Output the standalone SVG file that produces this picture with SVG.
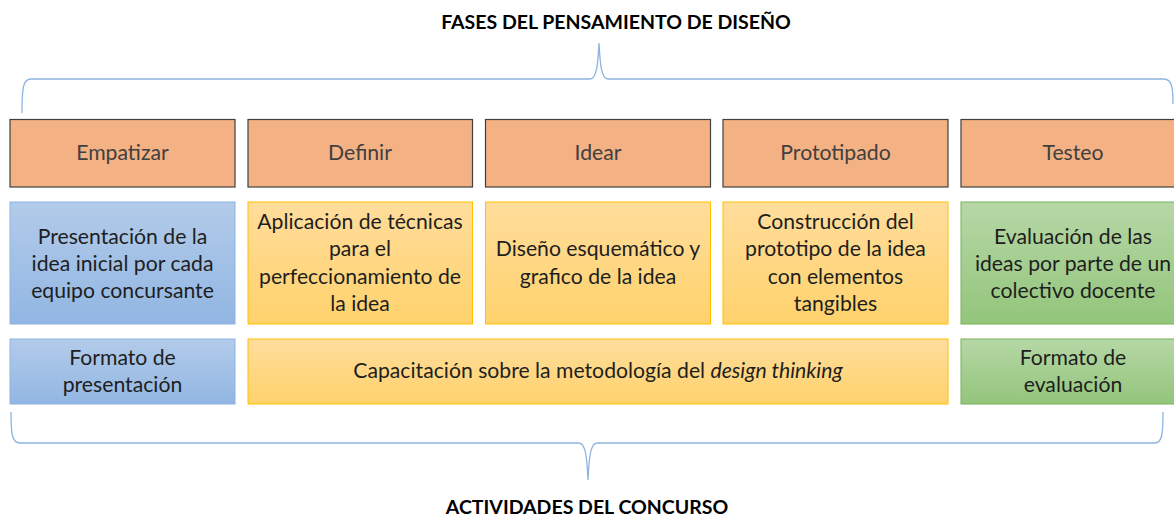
<svg xmlns="http://www.w3.org/2000/svg" width="1174" height="516" viewBox="0 0 1174 516">
<defs>
<linearGradient id="gBlue" x1="0" y1="0" x2="0" y2="1"><stop offset="0" stop-color="#B3CBEA"/><stop offset="1" stop-color="#91B6E2"/></linearGradient>
<linearGradient id="gYel" x1="0" y1="0" x2="0" y2="1"><stop offset="0" stop-color="#FFDD9C"/><stop offset="1" stop-color="#FFD26C"/></linearGradient>
<linearGradient id="gGrn" x1="0" y1="0" x2="0" y2="1"><stop offset="0" stop-color="#B6D7A6"/><stop offset="1" stop-color="#93C57B"/></linearGradient>
<style>
.t{font-family:Lato,"Liberation Sans",sans-serif;font-size:21.2px;text-anchor:middle;fill:#1e1e1e}
.h{font-family:Lato,"Liberation Sans",sans-serif;font-size:19.5px;font-weight:bold;text-anchor:middle;fill:#000}
.ph rect{fill:#F4B183;stroke:#404040;stroke-width:1.2}
.ph text{fill:#404040}
.b{fill:url(#gBlue);stroke:#8DB3E2;stroke-width:1}
.y{fill:url(#gYel);stroke:#FFC000;stroke-width:1}
.g{fill:url(#gGrn);stroke:#78B15A;stroke-width:1}
.br{fill:none;stroke:#8DB4E0;stroke-width:1.3}
</style>
</defs>
<rect width="1174" height="516" fill="#fff"/>
<text class="h" x="616" y="29">FASES DEL PENSAMIENTO DE DISEÑO</text>
<text class="h" x="587" y="514">ACTIVIDADES DEL CONCURSO</text>
<g id="connectors">
<path class="br" d="M22,113 C22,88 23,79 31,79 L590,79 C597,79 598,62 599,43 C600,62 601,79 608,79 L1164,79 C1172,79 1173,88 1173,104"/>
<path class="br" d="M11,412 C11,434 12,443 20,443 L579,443 C586,443 587,460 588,480 C589,460 590,443 597,443 L1155,443 C1162,443 1163,434 1163,412"/>
</g>
<g id="empatizar" class="ph"><rect x="10" y="119.5" width="225" height="67.5"/><text class="t" x="122.5" y="160">Empatizar</text></g>
<g id="definir" class="ph"><rect x="248" y="119.5" width="224.5" height="67.5"/><text class="t" x="360" y="160">Definir</text></g>
<g id="idear" class="ph"><rect x="485.5" y="119.5" width="225" height="67.5"/><text class="t" x="598" y="160">Idear</text></g>
<g id="prototipado" class="ph"><rect x="723" y="119.5" width="225" height="67.5"/><text class="t" x="835.5" y="160">Prototipado</text></g>
<g id="testeo" class="ph"><rect x="961" y="119.5" width="226" height="67.5"/><text class="t" x="1073" y="160">Testeo</text></g>

<g id="act-empatizar"><rect class="b" x="10" y="202" width="225" height="122"/>
<text class="t" x="122.5" y="244">Presentación de la</text><text class="t" x="122.5" y="271">idea inicial por cada</text><text class="t" x="122.5" y="298">equipo concursante</text></g>
<g id="act-definir"><rect class="y" x="248" y="202" width="224.5" height="122"/>
<text class="t" x="360" y="229">Aplicación de técnicas</text><text class="t" x="360" y="256">para el</text><text class="t" x="360" y="284">perfeccionamiento de</text><text class="t" x="360" y="311">la idea</text></g>
<g id="act-idear"><rect class="y" x="485.5" y="202" width="225" height="122"/>
<text class="t" x="598" y="256">Diseño esquemático y</text><text class="t" x="598" y="284">grafico de la idea</text></g>
<g id="act-prototipado"><rect class="y" x="723" y="202" width="225" height="122"/>
<text class="t" x="835.5" y="229">Construcción del</text><text class="t" x="835.5" y="256">prototipo de la idea</text><text class="t" x="835.5" y="284">con elementos</text><text class="t" x="835.5" y="311">tangibles</text></g>
<g id="act-testeo"><rect class="g" x="961" y="202" width="226" height="122"/>
<text class="t" x="1073" y="244">Evaluación de las</text><text class="t" x="1073" y="271">ideas por parte de un</text><text class="t" x="1073" y="298">colectivo docente</text></g>

<g id="formato-presentacion"><rect class="b" x="10" y="339" width="225" height="65"/>
<text class="t" x="122.5" y="365">Formato de</text><text class="t" x="122.5" y="392">presentación</text></g>
<g id="capacitacion"><rect class="y" x="248" y="339" width="700" height="65"/>
<text class="t" x="598" y="378">Capacitación sobre la metodología del <tspan font-style="italic">design thinking</tspan></text></g>
<g id="formato-evaluacion"><rect class="g" x="961" y="339" width="226" height="65"/>
<text class="t" x="1073" y="365">Formato de</text><text class="t" x="1073" y="392">evaluación</text></g>
</svg>
